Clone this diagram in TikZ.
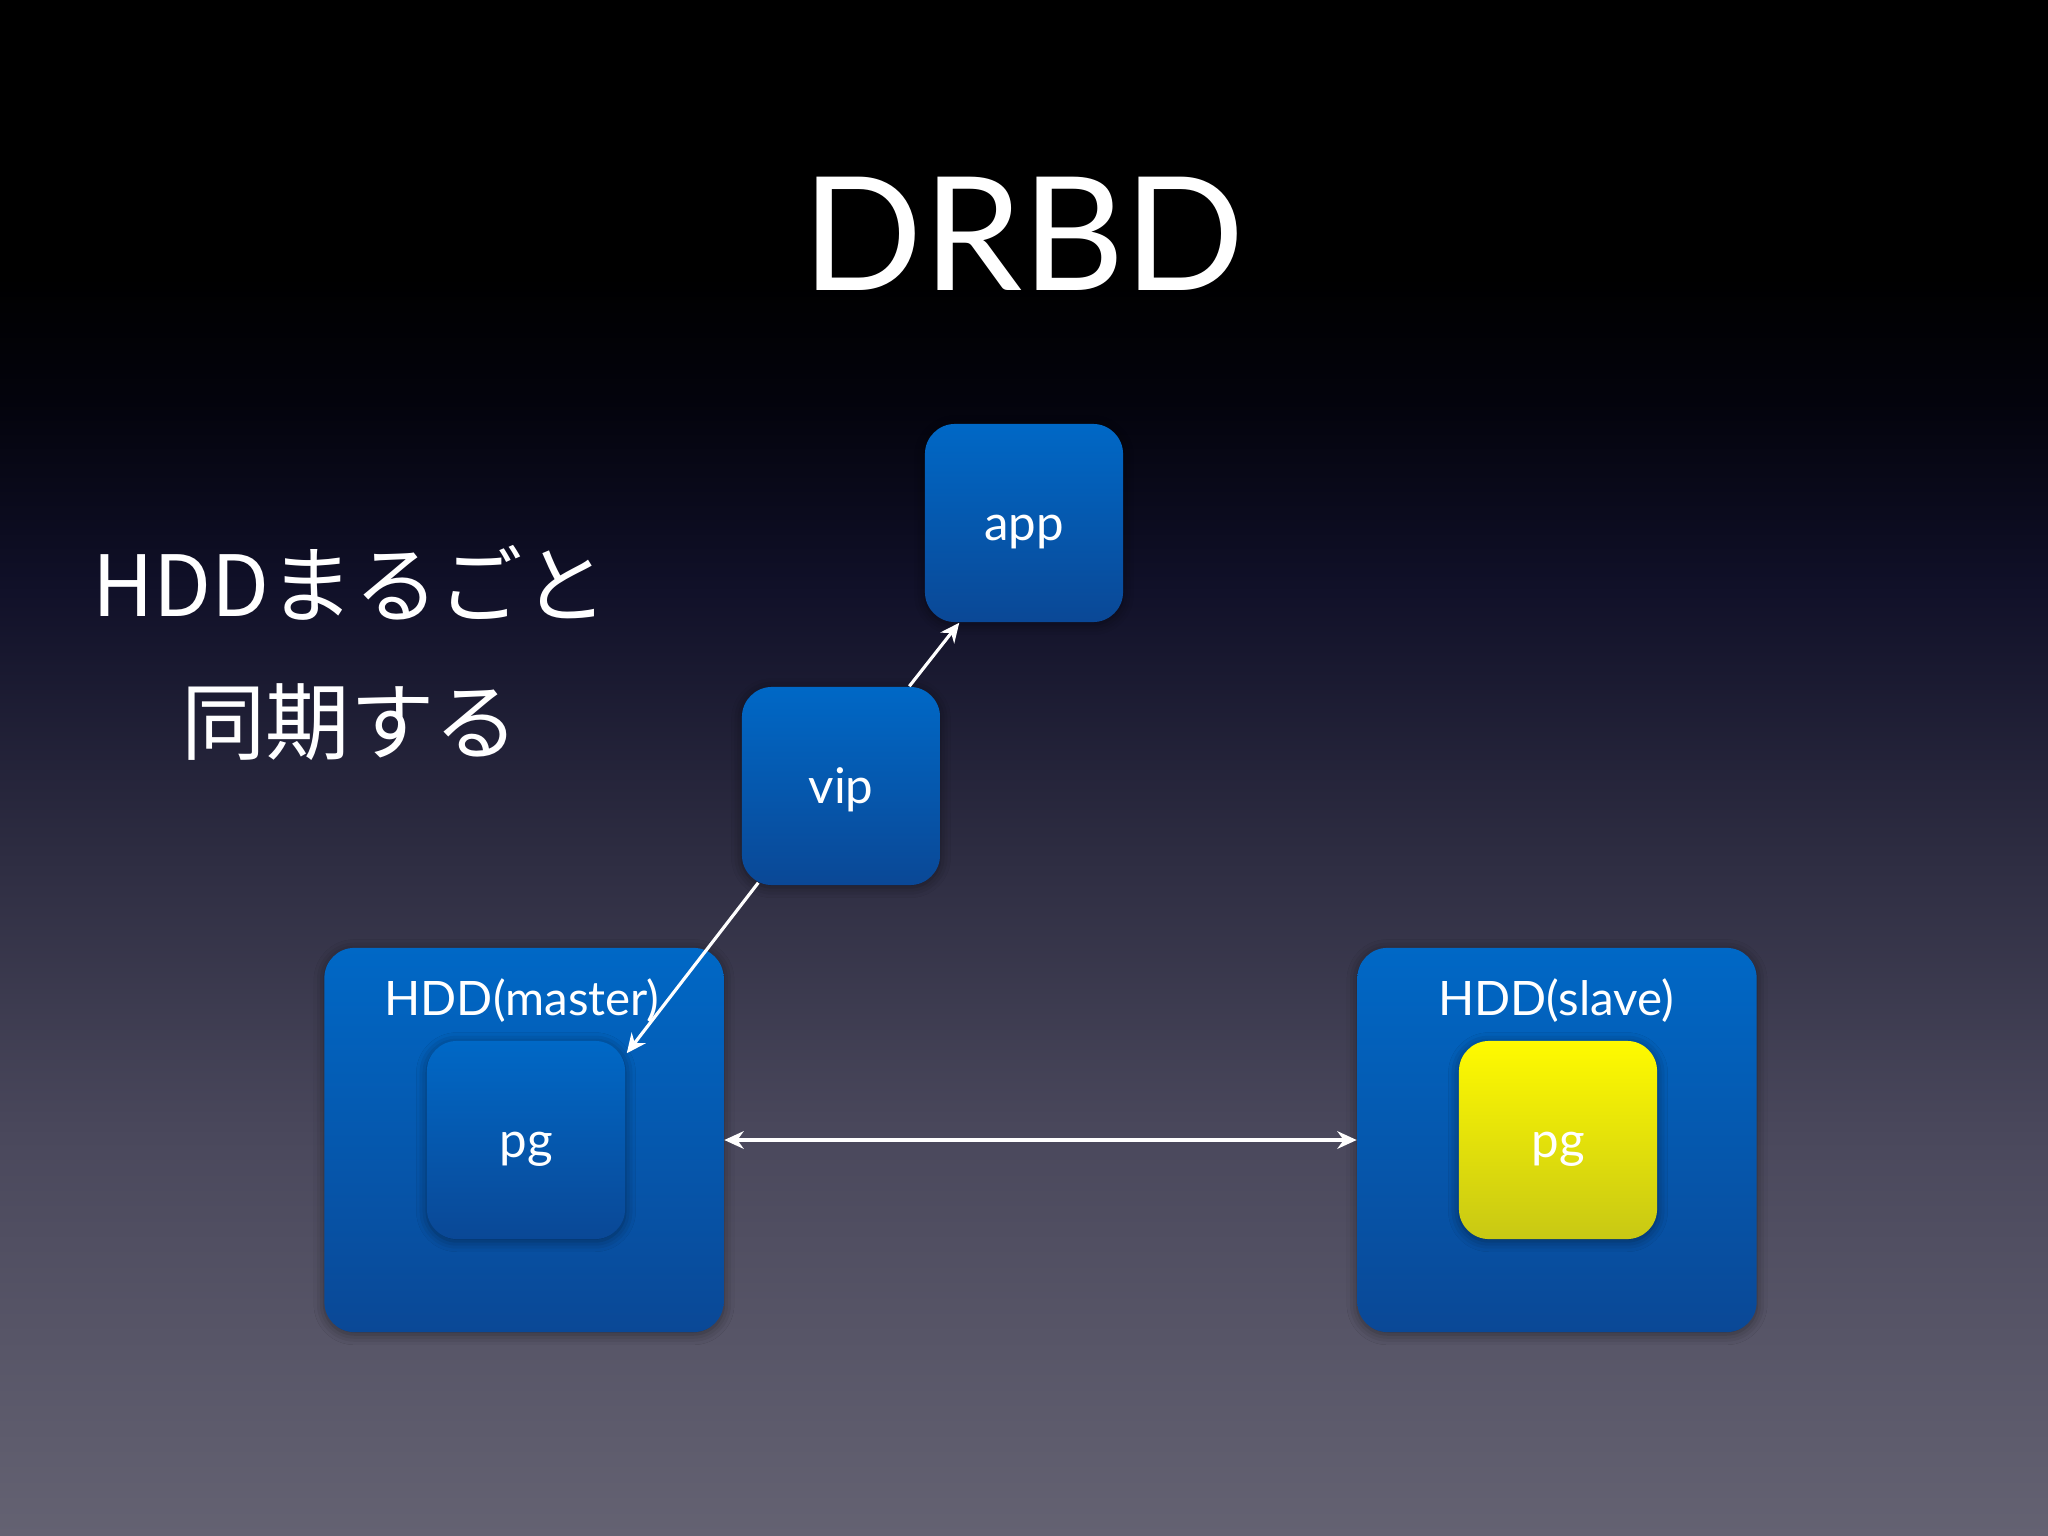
\documentclass[tikz,border=0pt]{standalone}
\usepackage{fontspec}
\setmainfont{Lato}
\newfontfamily\jpfont{Noto Sans CJK JP}
\usetikzlibrary{arrows.meta,shadows.blur}
\definecolor{bgA}{RGB}{100,98,114}
\definecolor{bgB}{RGB}{74,72,92}
\definecolor{bgC}{RGB}{46,45,66}
\definecolor{bgD}{RGB}{16,16,40}
\definecolor{bgE}{RGB}{3,3,12}
\definecolor{btop}{RGB}{0,104,198}
\definecolor{bbot}{RGB}{10,72,150}
\definecolor{ytop}{RGB}{255,250,0}
\definecolor{ybot}{RGB}{200,200,20}
\pgfdeclareverticalshading{bgshade}{100bp}{color(0bp)=(bgA); color(25bp)=(bgA); color(38bp)=(bgB); color(47bp)=(bgC); color(56bp)=(bgD); color(62bp)=(bgE); color(66bp)=(black); color(100bp)=(black)}
\tikzset{
  box/.style={rounded corners=0.3cm, minimum width=1.98cm, minimum height=1.98cm,
    top color=btop, bottom color=bbot, draw=none, text=white, inner sep=0pt,
    font=\fontsize{14}{16}\selectfont, text height=9.9pt, text depth=0pt,
    blur shadow={shadow xshift=0pt, shadow yshift=-0.6pt, shadow blur radius=3pt, shadow opacity=45}},
  bigbox/.style={box, minimum width=3.99cm, minimum height=3.84cm},
  ybox/.style={box, top color=ytop, bottom color=ybot},
  lbl/.style={text=white, font=\fontsize{13.5}{16}\selectfont, inner sep=0pt},
  conn/.style={draw=white, line width=0.9pt, -{Stealth[length=5.5pt,width=5pt]}},
  dconn/.style={draw=white, line width=0.9pt, {Stealth[length=5.5pt,width=5pt]}-{Stealth[length=5.5pt,width=5pt]}}
}
\begin{document}
\begin{tikzpicture}[x=0.01cm,y=-0.01cm]
\useasboundingbox (0,0) rectangle (2048,1536);
\shade[shading=bgshade] (0,0) rectangle (2048,1536);
\node[text=white, font=\fontsize{45}{50}\selectfont, anchor=base, inner sep=0pt] (title) at (1024,290) {DRBD};
\node[text=white, align=center, font=\jpfont\fontsize{24}{39}\selectfont, inner sep=0pt] (jp) at (350,653) {HDDまるごと\\同期する};
\node[box] (app) at (1024,523) {app};
\node[box] (vip) at (841,786) {vip};
\node[bigbox] (master) at (524,1140) {};
\node[bigbox] (slave) at (1557,1140) {};
\node[box] (pgm) at (526,1140) {pg};
\node[ybox] (pgs) at (1558,1140) {pg};
\node[lbl] (mlabel) at (522,1001) {HDD(master)};
\node[lbl] (slabel) at (1556,1001) {HDD(slave)};
\draw[conn] ([xshift=1.68cm]vip.north west) -- ([xshift=0.35cm]app.south west);
\draw[conn] ([xshift=0.17cm,yshift=0.03cm]vip.south west) -- ([xshift=0.01cm,yshift=-0.13cm]pgm.north east);
\draw[dconn] (master) -- (slave);
\end{tikzpicture}
\end{document}
